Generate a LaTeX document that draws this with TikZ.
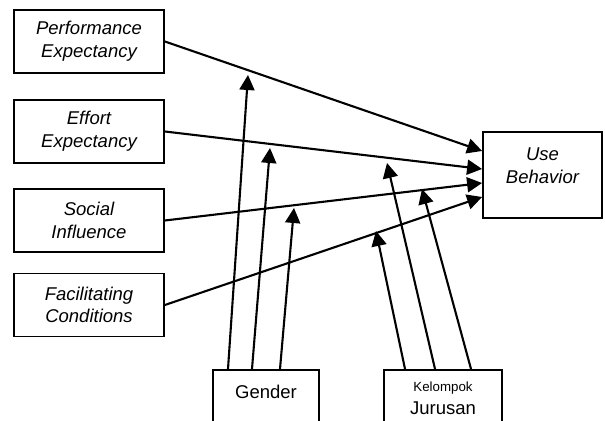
\documentclass[tikz,border=0pt]{standalone}
\usepackage{fontspec}
\setmainfont{Liberation Sans}
\usetikzlibrary{arrows.meta}
\begin{document}
\begin{tikzpicture}[x=0.5pt,y=-0.5pt,
  box/.style={draw,line width=0.9pt,rectangle,inner sep=0pt},
  lbox/.style={box,minimum width=75pt,minimum height=31.5pt,align=center,font=\itshape\fontsize{9.25}{11.35}\selectfont},
  lbl/.style={inner sep=0pt,align=center,font=\fontsize{9.25}{11.35}\selectfont},
  conn/.style={line width=1.05pt,-{Triangle[length=7.5pt,width=7.5pt]}}]
\clip (0,0) rectangle (605,421);
\fill[white] (0,0) rectangle (605,421);
\node[lbox] (pe) at (89,41.5) {Performance\\Expectancy};
\node[lbox] (ee) at (89,131.5) {Effort\\Expectancy};
\node[lbox] (si) at (89,220.5) {Social\\Influence};
\node[lbox] (fc) at (89,305) {Facilitating\\Conditions};
\node[box,minimum width=59.5pt,minimum height=43pt] (ub) at (542.5,175) {};
\node[lbl,font=\itshape\fontsize{9.25}{11.35}\selectfont] (ubt) at (542.5,165.5) {Use\\Behavior};
\node[box,anchor=north,minimum width=53pt,minimum height=40pt] (g) at (266,369) {};
\node[lbl] (gt) at (266,392) {Gender};
\node[box,anchor=north,minimum width=59pt,minimum height=40pt] (k) at (443,369) {};
\node[lbl,font=\fontsize{6.65}{8}\selectfont] (kt1) at (443,388) {Kelompok};
\node[lbl] (kt2) at (443,408) {Jurusan};
% tips of moderator arrows
\coordinate (g1) at (248,75);
\coordinate (g2) at (270,148);
\coordinate (g3) at (294,208);
\coordinate (k1) at (376,231);
\coordinate (k2) at (387,163);
\coordinate (k3) at (422,189);
\draw[conn] (pe.east) -- ([yshift=12pt]ub.west);
\draw[conn] (ee.east) -- ([yshift=3pt]ub.west);
\draw[conn] (si.east) -- ([yshift=-4pt]ub.west);
\draw[conn] (fc.east) -- ([yshift=-11pt]ub.west);
\draw[conn] ([xshift=-19pt]g.north) -- (g1);
\draw[conn] ([xshift=-7pt]g.north) -- (g2);
\draw[conn] ([xshift=7pt]g.north) -- (g3);
\draw[conn] ([xshift=-19pt]k.north) -- (k1);
\draw[conn] ([xshift=-4pt]k.north) -- (k2);
\draw[conn] ([xshift=14pt]k.north) -- (k3);
\end{tikzpicture}
\end{document}
